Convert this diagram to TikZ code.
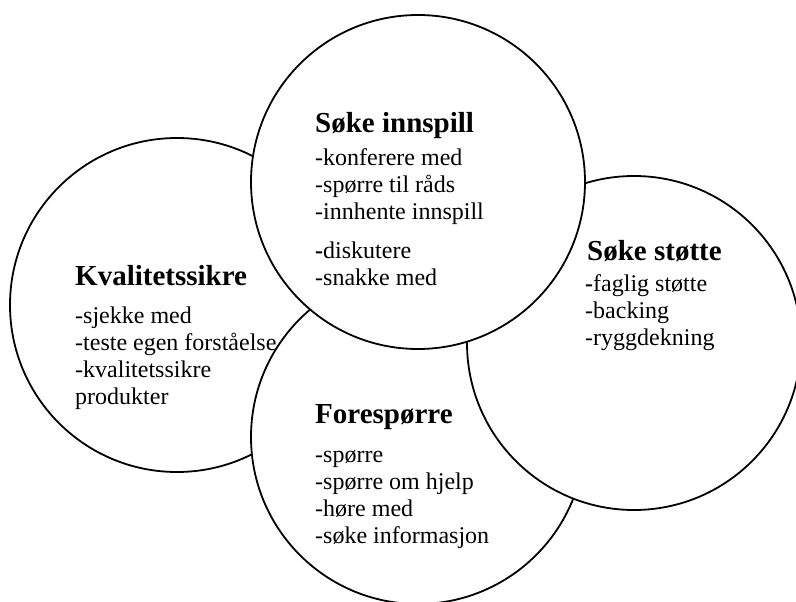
\documentclass[tikz,border=0pt]{standalone}
\usepackage{fontspec}
\setmainfont{Liberation Serif}
\usetikzlibrary{positioning}

\begin{document}
\begin{tikzpicture}
[x = 1pt, y = -1pt]
\tikzset{
	ring/.style = {circle, draw, line width = 1.8pt, fill = white, minimum size = 334pt, inner sep = 0},
	head/.style = {anchor = base west, inner sep = 0, font = \fontsize{29}{33}\selectfont\bfseries},
	items/.style = {anchor = base west, inner sep = 0, align = left, font = \fontsize{24}{27}\selectfont},
}

\clip (0,0) rectangle (796,602);
\node(kval)[ring] at (177,305){};
\node(foresp)[ring] at (418,437){};
\node(stotte)[ring] at (634,343){};
\node(innspill)[ring] at (418,182){};

% base of a block = its last line
\node(innspill-h)[head] at (315,132){Søke innspill};
\node(innspill-t)[items] at (315,285){-konferere med\\-spørre til råds\\-innhente innspill\\[12pt]{\bfseries-}diskutere\\-snakke med};

\node(kval-h)[head] at (75,285){Kvalitetssikre};
\node(kval-t)[items] at (75,404){-sjekke med\\-teste egen forståelse\\-kvalitetssikre\\produkter};

\node(foresp-h)[head] at (315,423){Forespørre};
\node(foresp-t)[items] at (315,543){-spørre\\-spørre om hjelp\\-høre med\\-søke informasjon};

\node(stotte-h)[head] at (587,260){Søke støtte};
\node(stotte-t)[items] at (585,345){{\bfseries-}faglig støtte\\-backing\\-ryggdekning};

\end{tikzpicture}
\end{document}
